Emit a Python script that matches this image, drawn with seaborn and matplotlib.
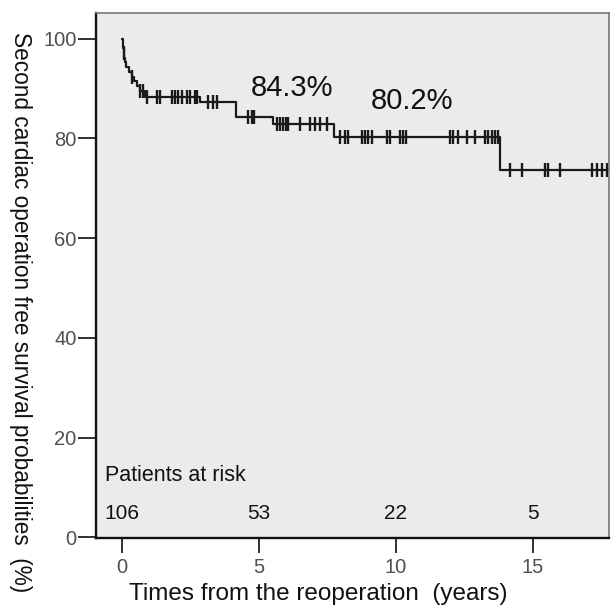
import numpy as np
import pandas as pd
import matplotlib
matplotlib.use("Agg")
import matplotlib.pyplot as plt
import seaborn as sns

# Kaplan-Meier step curve (time in years, survival in %)
step_times = [0.00, 0.02, 0.04, 0.06, 0.08, 0.10, 0.15, 0.25, 0.35, 0.45, 0.55, 0.65, 0.85,
              2.85, 4.17, 5.52, 7.72, 13.80, 17.80]
step_surv = [100.0, 99.1, 98.1, 97.2, 96.2, 95.3, 94.3, 93.4, 92.4, 91.5, 90.5, 89.6, 88.4,
             87.3, 84.3, 83.0, 80.3, 73.6, 73.6]

# censored observations
censor_times = [0.07, 0.35, 0.66, 0.75, 0.90, 1.27, 1.39, 1.81, 1.93, 2.05, 2.18, 2.36, 2.48,
                2.66, 2.73, 3.15, 3.33, 3.48, 4.61, 4.73, 4.83, 5.65, 5.77, 5.89, 5.99, 6.07,
                6.50, 6.86, 7.04, 7.23, 7.47, 7.96, 8.14, 8.26, 8.75, 8.87, 8.99, 9.11, 9.66,
                9.78, 10.15, 10.27, 10.36, 11.97, 12.09, 12.27, 12.58, 12.88, 13.25, 13.36,
                13.49, 13.61, 13.72, 14.16, 14.59, 15.44, 15.55, 15.99, 17.14, 17.32, 17.51,
                17.69]

risk_times = [0, 5, 10, 15]
risk_counts = ["106", "53", "22", "5"]

rate_labels = ["84.3%", "80.2%"]
rate_pos = [(6.2, 90.2), (10.6, 87.6)]

df_km = pd.DataFrame({"t": step_times, "s": step_surv})
idx = np.searchsorted(step_times, censor_times, side="right") - 1
df_cens = pd.DataFrame({"t": censor_times, "s": np.array(step_surv)[idx]})

sns.set_style("ticks")
plt.rcParams["font.family"] = ["Liberation Sans", "DejaVu Sans"]

fig = plt.figure(figsize=(6.11, 6.13), dpi=100)
ax = fig.add_axes([0.157, 0.122, 0.840, 0.857])
ax.set_facecolor("#ebebeb")

sns.lineplot(ax=ax, data=df_km, x="t", y="s", drawstyle="steps-post", color="#1a1a1a",
             linewidth=1.6, estimator=None, sort=False)
sns.scatterplot(ax=ax, data=df_cens, x="t", y="s", marker="|", s=110, color="#1a1a1a",
                linewidth=1.7)

for lab, (x, y) in zip(rate_labels, rate_pos):
    ax.text(x, y, lab, fontsize=21, ha="center", va="center", color="#111111")

ax.text(-0.62, 12.4, "Patients at risk", fontsize=15.5, ha="left", va="center", color="#111111")
for x, lab in zip(risk_times, risk_counts):
    ax.text(x, 4.8, lab, fontsize=15, ha="center", va="center", color="#111111")

ax.set_xlim(-0.95, 17.78)
ax.set_ylim(-0.2, 105.2)
ax.set_xticks([0, 5, 10, 15])
ax.set_yticks([0, 20, 40, 60, 80, 100])
ax.tick_params(axis="both", direction="out", width=1.3, labelsize=14.5,
               labelcolor="#505050", color="#222222")
ax.tick_params(axis="y", length=13, pad=1)
ax.tick_params(axis="x", length=11, pad=3)

for side in ["left", "bottom"]:
    ax.spines[side].set_color("#111111")
    ax.spines[side].set_linewidth(1.7)
for side in ["top", "right"]:
    ax.spines[side].set_visible(True)
    ax.spines[side].set_color("#777777")
    ax.spines[side].set_linewidth(1.2)

ax.set_xlabel("Times from the reoperation  (years)", fontsize=17.5, color="#111111")
ax.xaxis.set_label_coords(0.433, -0.085)
ax.set_ylabel("Second cardiac operation free survival probabilities  (%)", fontsize=16.3,
              color="#111111", rotation=-90)
ax.yaxis.set_label_coords(-0.17, 0.43)

fig.savefig("out.png", dpi=100)
